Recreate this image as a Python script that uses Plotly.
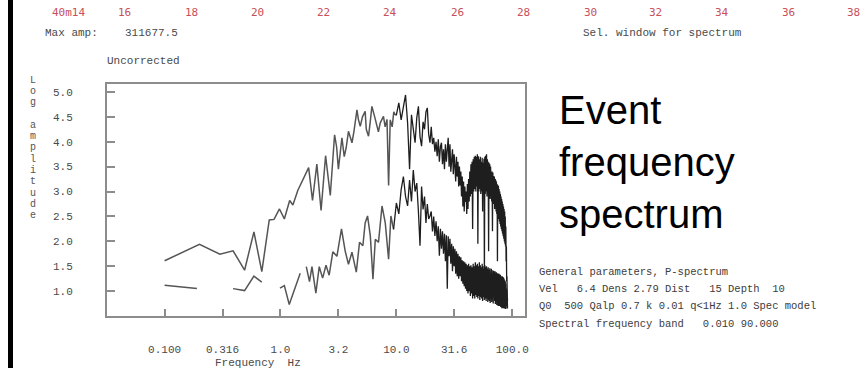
import plotly.graph_objects as go

# ---------------- data ----------------
# Event spectrum, low-frequency part (Hz, log amplitude)
sig_low_freq = [0.10, 0.20, 0.30, 0.39, 0.49, 0.59, 0.69, 0.80, 0.88, 0.98,
                1.08, 1.20, 1.28, 1.41, 1.75, 1.89, 2.06, 2.24, 2.45, 2.69,
                2.93, 3.05, 3.16, 3.39, 3.55, 3.69, 3.86, 4.14, 4.30, 4.57,
                4.70, 4.88, 5.10, 5.38, 5.50, 5.75, 5.95, 6.15, 6.50, 6.79,
                7.00, 7.26, 7.74, 8.00, 8.30, 8.57, 8.85, 9.20, 9.50, 9.77]
sig_low_amp = [1.61, 1.94, 1.74, 1.81, 1.42, 2.19, 1.39, 2.43, 2.44, 2.65,
               2.45, 2.82, 2.73, 3.02, 3.48, 2.82, 3.55, 2.62, 3.72, 2.92,
               4.14, 3.90, 3.45, 4.08, 3.70, 3.88, 4.21, 3.98, 4.20, 4.64,
               4.45, 4.31, 4.50, 4.61, 4.25, 4.11, 4.40, 4.71, 4.50, 4.28,
               4.20, 4.38, 4.51, 4.30, 4.45, 3.12, 4.44, 4.30, 4.60, 4.54]

# Noise spectrum, low-frequency part (None = gap in the curve)
noise_low_freq = [0.10, 0.14, 0.19, 0.29, 0.39, 0.49, 0.59, 0.69, 0.84, 0.99,
                  1.08, 1.19, 1.48, 1.58, 1.67, 1.78, 1.87, 2.02, 2.16, 2.31,
                  2.47, 2.63, 2.83, 3.07, 3.36, 3.62, 3.86, 4.14, 4.51, 4.81,
                  5.14, 5.38, 5.64, 5.96, 6.28, 6.58, 7.01, 7.52, 8.02, 8.57,
                  8.97, 9.46]
noise_low_amp = [1.12, 1.09, 1.05, None, 1.05, 1.01, 1.30, 1.18, None, 1.06,
                 1.11, 0.73, 1.36, None, 1.49, 1.19, 1.49, 0.96, 1.49, 1.26,
                 1.52, 1.32, 1.79, 1.70, 2.25, 1.80, 1.54, 1.78, 1.38, 1.98,
                 1.91, 2.37, 2.51, 2.11, 1.24, 2.04, 1.98, 2.71, 2.37, 1.64,
                 2.51, 2.24]

# High-frequency band shared by both spectra (Hz)
band_freq = [10.0, 10.5, 11.0, 11.5, 12.0, 12.5, 13.0, 13.5, 14.0, 14.5,
             15.0, 15.5, 16.0, 16.5, 17.0, 17.5, 18.0, 18.5, 19.0, 19.5,
             20.0, 20.5, 21.0, 21.5, 22.0, 22.5, 23.0, 23.5, 24.0, 24.5,
             25.0, 25.5, 26.0, 26.5, 27.0, 27.5, 28.0, 28.5, 29.0, 29.5,
             30.0, 30.5, 31.0, 31.5, 32.0, 32.5, 33.0, 33.5, 34.0, 34.5,
             35.0, 35.5, 36.0, 36.5, 37.0, 37.5, 38.0, 38.5, 39.0, 39.5,
             40.0, 40.5, 41.0, 41.5, 42.0, 42.5, 43.0, 43.5, 44.0, 44.5,
             45.0, 45.5, 46.0, 46.5, 47.0, 47.5, 48.0, 48.5, 49.0, 49.5,
             50.0, 50.5, 51.0, 51.5, 52.0, 52.5, 53.0, 53.5, 54.0, 54.5,
             55.0, 55.5, 56.0, 56.5, 57.0, 57.5, 58.0, 58.5, 59.0, 59.5,
             60.0, 60.5, 61.0, 61.5, 62.0, 62.5, 63.0, 63.5, 64.0, 64.5,
             65.0, 65.5, 66.0, 66.5, 67.0, 67.5, 68.0, 68.5, 69.0, 69.5,
             70.0, 70.5, 71.0, 71.5, 72.0, 72.5, 73.0, 73.5, 74.0, 74.5,
             75.0, 75.5, 76.0, 76.5, 77.0, 77.5, 78.0, 78.5, 79.0, 79.5,
             80.0, 80.5, 81.0, 81.5, 82.0, 82.5, 83.0, 83.5, 84.0, 84.5,
             85.0, 85.5, 86.0, 86.5, 87.0, 87.5, 88.0, 88.5, 89.0, 89.5,
             90.0, 90.5, 91.0]
sig_band_amp = [4.54, 4.78, 4.44, 4.70, 4.94, 4.38, 3.45, 4.54, 4.20, 3.98,
                4.48, 4.71, 4.10, 3.91, 4.40, 4.25, 4.60, 4.68, 4.15, 3.98,
                4.30, 3.95, 4.08, 3.80, 4.00, 3.71, 4.05, 3.60, 3.90, 3.98,
                3.55, 3.85, 3.45, 3.95, 3.60, 4.00, 4.08, 3.50, 3.95, 3.40,
                3.65, 3.85, 3.35, 3.75, 3.51, 3.20, 3.70, 3.30, 3.60, 3.10,
                3.50, 3.12, 3.40, 2.90, 3.30, 2.70, 3.20, 2.60, 3.10, 2.79,
                3.00, 2.55, 3.15, 2.65, 3.25, 2.80, 3.40, 2.90, 3.55, 2.95,
                3.60, 2.25, 3.65, 3.00, 3.70, 3.05, 3.72, 3.00, 3.70, 3.10,
                3.75, 1.95, 3.71, 3.00, 3.65, 3.05, 3.70, 2.95, 3.60, 3.00,
                3.68, 2.60, 3.58, 3.00, 3.66, 1.30, 3.70, 2.95, 3.72, 3.00,
                3.75, 2.90, 3.65, 2.95, 3.60, 1.80, 3.58, 2.90, 3.55, 2.85,
                3.50, 2.90, 3.45, 2.80, 3.40, 2.20, 3.38, 2.80, 3.31, 2.75,
                3.30, 2.65, 3.25, 2.70, 3.22, 2.60, 3.20, 2.55, 3.15, 1.60,
                3.12, 2.50, 3.10, 2.45, 3.05, 2.40, 3.00, 2.35, 2.95, 2.30,
                2.90, 2.25, 2.85, 2.20, 2.80, 2.15, 2.75, 2.10, 2.70, 2.05,
                2.65, 2.00, 2.60, 1.95, 2.50, 1.90, 2.30, 1.60, 1.90, 1.20,
                1.30, 0.90, 0.65]
noise_band_amp = [2.77, 2.55, 3.04, 3.30, 2.90, 2.71, 3.23, 2.80, 3.43, 3.00,
                  3.17, 2.60, 1.91, 3.10, 2.64, 2.90, 2.37, 2.75, 2.45, 2.51,
                  2.60, 2.20, 2.50, 2.11, 2.40, 2.00, 2.30, 1.71, 2.25, 1.85,
                  2.20, 1.75, 2.15, 1.60, 2.12, 1.05, 2.10, 1.70, 2.05, 1.55,
                  1.95, 1.40, 1.90, 1.50, 1.85, 1.35, 1.80, 1.30, 1.75, 1.25,
                  1.70, 1.30, 1.68, 1.20, 1.62, 1.15, 1.60, 1.10, 1.58, 1.05,
                  1.55, 1.00, 1.52, 0.95, 1.55, 1.00, 1.50, 0.90, 1.52, 0.95,
                  1.48, 0.85, 1.55, 0.90, 1.50, 0.85, 1.58, 0.92, 1.52, 0.88,
                  1.55, 0.85, 1.50, 0.90, 1.58, 0.82, 1.52, 0.88, 1.48, 0.85,
                  1.55, 0.80, 1.50, 0.88, 1.45, 0.82, 1.52, 0.85, 1.48, 0.80,
                  1.50, 0.85, 1.45, 0.78, 1.48, 0.82, 1.42, 0.80, 1.46, 0.76,
                  1.40, 0.82, 1.45, 0.78, 1.38, 0.80, 1.42, 0.75, 1.40, 0.78,
                  1.36, 0.80, 1.40, 0.74, 1.35, 0.78, 1.38, 0.72, 1.33, 0.76,
                  1.36, 0.70, 1.32, 0.75, 1.35, 0.70, 1.30, 0.72, 1.33, 0.68,
                  1.30, 0.72, 1.28, 0.66, 1.30, 0.70, 1.26, 0.66, 1.28, 0.68,
                  1.25, 0.65, 1.22, 0.66, 1.20, 0.64, 1.15, 0.65, 1.05, 0.68,
                  0.95, 0.70, 0.85]

freq_tick_vals = [0.1, 0.316, 1.0, 3.16, 10.0, 31.6, 100.0]
freq_tick_text = ["0.100", "0.316", "1.0", "3.2", "10.0", "31.6", "100.0"]
amp_tick_vals = [1.0, 1.5, 2.0, 2.5, 3.0, 3.5, 4.0, 4.5, 5.0]
amp_tick_text = ["1.0", "1.5", "2.0", "2.5", "3.0", "3.5", "4.0", "4.5", "5.0"]

# time labels of the trace window (seconds)
time_labels = ["40m14", "16", "18", "20", "22", "24", "26", "28", "30", "32", "34", "36", "38"]

param_lines = [
    "General parameters, P-spectrum",
    "Vel   6.4 Dens 2.79 Dist   15 Depth  10",
    "Q0  500 Qalp 0.7 k 0.01 q<1Hz 1.0 Spec model",
    "Spectral frequency band   0.010 90.000",
]

# ---------------- layout geometry (pixels) ----------------
W, H = 866, 368
L, R, T, B = 107, 525, 84, 318


def fx(px):
    return (px - L) / (R - L)


def fy(py):
    return (B - py) / (B - T)


MONO = "Liberation Mono"
GREY_TXT = "#4a4a4a"
AXIS_GREY = "#8c8c8c"
LINE_GREY = "#555555"
BAND_DARK = "#1e1e1e"

fig = go.Figure()

# sparse low-frequency parts, then the dense high-frequency band
# (band traces start at the last low-frequency sample so the curves join)
curves = [
    (sig_low_freq, sig_low_amp, LINE_GREY, 1.5),
    (noise_low_freq, noise_low_amp, LINE_GREY, 1.5),
    (sig_low_freq[-1:] + band_freq, sig_low_amp[-1:] + sig_band_amp, BAND_DARK, 1.3),
    (noise_low_freq[-1:] + band_freq, noise_low_amp[-1:] + noise_band_amp, BAND_DARK, 1.3),
]
for xs, ys, col, w in curves:
    fig.add_trace(go.Scatter(
        x=xs, y=ys, mode="lines", connectgaps=False,
        line=dict(color=col, width=w),
        hoverinfo="skip", showlegend=False,
    ))

annotations = []


def text_at(txt, px, py, size=11, color=GREY_TXT, family=MONO, xanchor="left", yanchor="middle"):
    annotations.append(dict(
        text=txt, x=fx(px), y=fy(py), xref="paper", yref="paper",
        xanchor=xanchor, yanchor=yanchor, align="left", showarrow=False,
        font=dict(family=family, size=size, color=color),
    ))


# time labels along the top
time_px = [68, 124, 191, 257, 323, 390, 457, 523, 590, 655, 722, 788, 853]
for lab, px in zip(time_labels, time_px):
    text_at(lab, px, 12, size=11, color="#c8505a", family="DejaVu Sans Mono", xanchor="center")

text_at("Max amp:", 43, 33)
text_at("311677.5", 123, 33)
text_at("Sel. window for spectrum", 662, 33, xanchor="center")
text_at("Uncorrected", 105, 61)

# stacked vertical axis title
for i, ch in enumerate("Log amplitude"):
    if ch != " ":
        text_at(ch, 33, 80 + i * 11.4, size=10, color="#555555", xanchor="center")

text_at("Frequency\u00a0\u00a0Hz", 213, 365)

for i, line in enumerate(param_lines):
    text_at(line.replace(" ", "\u00a0"), 537, 274 + i * 17.2, size=10.5, color="#3c3c3c")

text_at("Event<br>frequency<br>spectrum", 557, 163, size=40, color="#000000",
        family="Liberation Sans")

shapes = [dict(type="rect", xref="paper", yref="paper",
               x0=fx(8), x1=fx(13), y0=fy(H + 5), y1=fy(-5),
               fillcolor="#000000", line=dict(width=0))]

fig.update_layout(
    width=W, height=H,
    margin=dict(l=L, r=W - R, t=T, b=H - B, pad=0),
    paper_bgcolor="white", plot_bgcolor="white",
    showlegend=False,
    annotations=annotations,
    shapes=shapes,
    xaxis=dict(
        type="log", range=[-1.497, 2.11],
        tickvals=freq_tick_vals, ticktext=freq_tick_text,
        ticks="inside", ticklen=7, tickwidth=1.5, tickcolor=AXIS_GREY,
        showline=True, linewidth=2, linecolor=AXIS_GREY, mirror=True,
        showgrid=False, zeroline=False, ticklabelstandoff=22,
        tickfont=dict(family=MONO, size=11, color=GREY_TXT),
    ),
    yaxis=dict(
        range=[0.5, 5.16],
        tickvals=amp_tick_vals, ticktext=amp_tick_text,
        ticks="inside", ticklen=8, tickwidth=1.5, tickcolor=AXIS_GREY,
        showline=True, linewidth=2, linecolor=AXIS_GREY, mirror=True,
        showgrid=False, zeroline=False, ticklabelstandoff=30,
        tickfont=dict(family=MONO, size=11, color=GREY_TXT),
    ),
)

fig.write_html("out.html")
